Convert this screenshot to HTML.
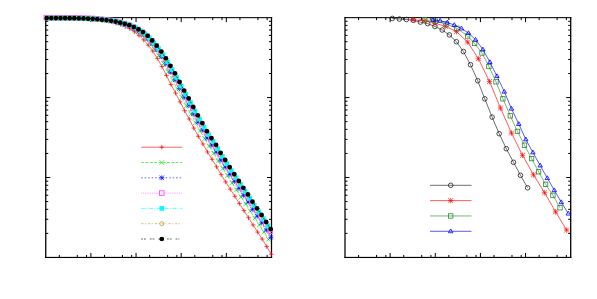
<!DOCTYPE html>
<html><head><meta charset="utf-8"><title>plot</title>
<style>html,body{margin:0;padding:0;background:#fff;font-family:"Liberation Sans",sans-serif;font-size:0;line-height:0}body{width:597px;height:299px;overflow:hidden;position:relative}svg{position:absolute;left:0;top:0}</style></head>
<body>
<svg width="597" height="299" viewBox="0 0 597 299" style="display:block">
<rect width="597" height="299" fill="#fff"/>
<defs><clipPath id="cl"><rect x="40" y="10" width="235" height="250"/></clipPath></defs>
<rect x="45.100" y="17.125" width="1.3" height="240.900" fill="#000"/>
<rect x="270.875" y="17.125" width="1.25" height="240.900" fill="#000"/>
<rect x="45.100" y="17.125" width="227.025" height="1.05" fill="#000"/>
<rect x="45.100" y="256.875" width="227.025" height="1.15" fill="#000"/>
<path d="M59.34 257.45v-2.5M59.34 17.65v2.5M77.31 257.45v-2.5M77.31 17.65v2.5M86.52 257.45v-2.5M86.52 17.65v2.5M90.90 257.45v-4.5M90.90 17.65v4.5M104.49 257.45v-2.5M104.49 17.65v2.5M122.46 257.45v-2.5M122.46 17.65v2.5M131.67 257.45v-2.5M131.67 17.65v2.5M136.05 257.45v-4.5M136.05 17.65v4.5M149.64 257.45v-2.5M149.64 17.65v2.5M167.61 257.45v-2.5M167.61 17.65v2.5M176.82 257.45v-2.5M176.82 17.65v2.5M181.20 257.45v-4.5M181.20 17.65v4.5M194.79 257.45v-2.5M194.79 17.65v2.5M212.76 257.45v-2.5M212.76 17.65v2.5M221.97 257.45v-2.5M221.97 17.65v2.5M226.35 257.45v-4.5M226.35 17.65v4.5M239.94 257.45v-2.5M239.94 17.65v2.5M257.91 257.45v-2.5M257.91 17.65v2.5M267.12 257.45v-2.5M267.12 17.65v2.5M45.75 73.52h2.5M271.5 73.52h-2.5M45.75 59.45h2.5M271.5 59.45h-2.5M45.75 49.46h2.5M271.5 49.46h-2.5M45.75 41.71h2.5M271.5 41.71h-2.5M45.75 35.38h2.5M271.5 35.38h-2.5M45.75 30.03h2.5M271.5 30.03h-2.5M45.75 25.40h2.5M271.5 25.40h-2.5M45.75 21.31h2.5M271.5 21.31h-2.5M45.75 97.58h4.5M271.5 97.58h-4.5M45.75 153.45h2.5M271.5 153.45h-2.5M45.75 139.38h2.5M271.5 139.38h-2.5M45.75 129.39h2.5M271.5 129.39h-2.5M45.75 121.65h2.5M271.5 121.65h-2.5M45.75 115.32h2.5M271.5 115.32h-2.5M45.75 109.97h2.5M271.5 109.97h-2.5M45.75 105.33h2.5M271.5 105.33h-2.5M45.75 101.24h2.5M271.5 101.24h-2.5M45.75 177.52h4.5M271.5 177.52h-4.5M45.75 233.39h2.5M271.5 233.39h-2.5M45.75 219.31h2.5M271.5 219.31h-2.5M45.75 209.33h2.5M271.5 209.33h-2.5M45.75 201.58h2.5M271.5 201.58h-2.5M45.75 195.25h2.5M271.5 195.25h-2.5M45.75 189.90h2.5M271.5 189.90h-2.5M45.75 185.26h2.5M271.5 185.26h-2.5M45.75 181.17h2.5M271.5 181.17h-2.5" stroke="#000" stroke-width="1" fill="none"/>
<g clip-path="url(#cl)">
<path d="M47.30 18.05L51.90 18.07L56.50 18.09L61.10 18.12L65.70 18.19L70.30 18.25L74.90 18.32L79.50 18.47L84.10 18.63L88.70 18.84L93.30 19.06L97.90 19.52L102.50 20.09L107.10 20.67L111.70 21.68L116.26 22.88L120.82 24.45L125.38 26.43L129.94 28.75L134.50 31.82L139.06 35.43L143.62 39.89L148.18 45.09L152.74 51.01L157.30 58.32L161.86 66.45L166.42 75.51L170.98 84.54L175.54 93.04L180.10 101.94L184.66 110.73L189.22 119.00L193.78 128.05L198.34 136.34L202.90 143.99L207.46 151.96L212.02 159.26L216.58 166.82L221.14 174.66L225.70 181.88L230.26 189.21L234.82 196.21L239.38 203.54L243.94 210.64L248.50 217.75L253.06 224.94L257.62 232.10L262.18 239.04L266.74 246.59L271.30 254.20" stroke="#ff0000" stroke-width="0.62" fill="none" stroke-linejoin="round"/>
<path d="M45.00 18.05h4.6M47.30 15.75v4.6" stroke="#ff0000" stroke-width="0.7" fill="none"/>
<path d="M49.60 18.07h4.6M51.90 15.77v4.6" stroke="#ff0000" stroke-width="0.7" fill="none"/>
<path d="M54.20 18.09h4.6M56.50 15.79v4.6" stroke="#ff0000" stroke-width="0.7" fill="none"/>
<path d="M58.80 18.12h4.6M61.10 15.82v4.6" stroke="#ff0000" stroke-width="0.7" fill="none"/>
<path d="M63.40 18.19h4.6M65.70 15.89v4.6" stroke="#ff0000" stroke-width="0.7" fill="none"/>
<path d="M68.00 18.25h4.6M70.30 15.95v4.6" stroke="#ff0000" stroke-width="0.7" fill="none"/>
<path d="M72.60 18.32h4.6M74.90 16.02v4.6" stroke="#ff0000" stroke-width="0.7" fill="none"/>
<path d="M77.20 18.47h4.6M79.50 16.17v4.6" stroke="#ff0000" stroke-width="0.7" fill="none"/>
<path d="M81.80 18.63h4.6M84.10 16.33v4.6" stroke="#ff0000" stroke-width="0.7" fill="none"/>
<path d="M86.40 18.84h4.6M88.70 16.54v4.6" stroke="#ff0000" stroke-width="0.7" fill="none"/>
<path d="M91.00 19.06h4.6M93.30 16.76v4.6" stroke="#ff0000" stroke-width="0.7" fill="none"/>
<path d="M95.60 19.52h4.6M97.90 17.22v4.6" stroke="#ff0000" stroke-width="0.7" fill="none"/>
<path d="M100.20 20.09h4.6M102.50 17.79v4.6" stroke="#ff0000" stroke-width="0.7" fill="none"/>
<path d="M104.80 20.67h4.6M107.10 18.37v4.6" stroke="#ff0000" stroke-width="0.7" fill="none"/>
<path d="M109.40 21.68h4.6M111.70 19.38v4.6" stroke="#ff0000" stroke-width="0.7" fill="none"/>
<path d="M113.96 22.88h4.6M116.26 20.58v4.6" stroke="#ff0000" stroke-width="0.7" fill="none"/>
<path d="M118.52 24.45h4.6M120.82 22.15v4.6" stroke="#ff0000" stroke-width="0.7" fill="none"/>
<path d="M123.08 26.43h4.6M125.38 24.13v4.6" stroke="#ff0000" stroke-width="0.7" fill="none"/>
<path d="M127.64 28.75h4.6M129.94 26.45v4.6" stroke="#ff0000" stroke-width="0.7" fill="none"/>
<path d="M132.20 31.82h4.6M134.50 29.52v4.6" stroke="#ff0000" stroke-width="0.7" fill="none"/>
<path d="M136.76 35.43h4.6M139.06 33.13v4.6" stroke="#ff0000" stroke-width="0.7" fill="none"/>
<path d="M141.32 39.89h4.6M143.62 37.59v4.6" stroke="#ff0000" stroke-width="0.7" fill="none"/>
<path d="M145.88 45.09h4.6M148.18 42.79v4.6" stroke="#ff0000" stroke-width="0.7" fill="none"/>
<path d="M150.44 51.01h4.6M152.74 48.71v4.6" stroke="#ff0000" stroke-width="0.7" fill="none"/>
<path d="M155.00 58.32h4.6M157.30 56.02v4.6" stroke="#ff0000" stroke-width="0.7" fill="none"/>
<path d="M159.56 66.45h4.6M161.86 64.15v4.6" stroke="#ff0000" stroke-width="0.7" fill="none"/>
<path d="M164.12 75.51h4.6M166.42 73.21v4.6" stroke="#ff0000" stroke-width="0.7" fill="none"/>
<path d="M168.68 84.54h4.6M170.98 82.24v4.6" stroke="#ff0000" stroke-width="0.7" fill="none"/>
<path d="M173.24 93.04h4.6M175.54 90.74v4.6" stroke="#ff0000" stroke-width="0.7" fill="none"/>
<path d="M177.80 101.94h4.6M180.10 99.64v4.6" stroke="#ff0000" stroke-width="0.7" fill="none"/>
<path d="M182.36 110.73h4.6M184.66 108.43v4.6" stroke="#ff0000" stroke-width="0.7" fill="none"/>
<path d="M186.92 119.00h4.6M189.22 116.70v4.6" stroke="#ff0000" stroke-width="0.7" fill="none"/>
<path d="M191.48 128.05h4.6M193.78 125.75v4.6" stroke="#ff0000" stroke-width="0.7" fill="none"/>
<path d="M196.04 136.34h4.6M198.34 134.04v4.6" stroke="#ff0000" stroke-width="0.7" fill="none"/>
<path d="M200.60 143.99h4.6M202.90 141.69v4.6" stroke="#ff0000" stroke-width="0.7" fill="none"/>
<path d="M205.16 151.96h4.6M207.46 149.66v4.6" stroke="#ff0000" stroke-width="0.7" fill="none"/>
<path d="M209.72 159.26h4.6M212.02 156.96v4.6" stroke="#ff0000" stroke-width="0.7" fill="none"/>
<path d="M214.28 166.82h4.6M216.58 164.52v4.6" stroke="#ff0000" stroke-width="0.7" fill="none"/>
<path d="M218.84 174.66h4.6M221.14 172.36v4.6" stroke="#ff0000" stroke-width="0.7" fill="none"/>
<path d="M223.40 181.88h4.6M225.70 179.58v4.6" stroke="#ff0000" stroke-width="0.7" fill="none"/>
<path d="M227.96 189.21h4.6M230.26 186.91v4.6" stroke="#ff0000" stroke-width="0.7" fill="none"/>
<path d="M232.52 196.21h4.6M234.82 193.91v4.6" stroke="#ff0000" stroke-width="0.7" fill="none"/>
<path d="M237.08 203.54h4.6M239.38 201.24v4.6" stroke="#ff0000" stroke-width="0.7" fill="none"/>
<path d="M241.64 210.64h4.6M243.94 208.34v4.6" stroke="#ff0000" stroke-width="0.7" fill="none"/>
<path d="M246.20 217.75h4.6M248.50 215.45v4.6" stroke="#ff0000" stroke-width="0.7" fill="none"/>
<path d="M250.76 224.94h4.6M253.06 222.64v4.6" stroke="#ff0000" stroke-width="0.7" fill="none"/>
<path d="M255.32 232.10h4.6M257.62 229.80v4.6" stroke="#ff0000" stroke-width="0.7" fill="none"/>
<path d="M259.88 239.04h4.6M262.18 236.74v4.6" stroke="#ff0000" stroke-width="0.7" fill="none"/>
<path d="M264.44 246.59h4.6M266.74 244.29v4.6" stroke="#ff0000" stroke-width="0.7" fill="none"/>
<path d="M269.00 254.20h4.6M271.30 251.90v4.6" stroke="#ff0000" stroke-width="0.7" fill="none"/>
<path d="M49.00 18.05L53.60 18.06L58.20 18.08L62.80 18.12L67.40 18.17L72.00 18.23L76.60 18.32L81.20 18.46L85.80 18.64L90.40 18.84L95.00 19.12L99.60 19.59L104.20 20.09L108.80 20.76L113.40 21.71L117.96 22.89L122.52 24.37L127.08 26.12L131.64 28.30L136.20 31.06L140.76 34.35L145.32 38.55L149.88 43.38L154.44 49.21L159.00 55.96L163.56 63.55L168.12 71.84L172.68 80.07L177.24 88.50L181.80 97.28L186.36 105.65L190.92 114.12L195.48 122.77L200.04 130.75L204.60 138.69L209.16 146.27L213.72 153.40L218.28 160.99L222.84 168.55L227.40 175.77L231.96 182.92L236.52 189.95L241.08 197.03L245.64 203.96L250.20 211.04L254.76 218.12L259.32 225.00L263.88 232.03L268.44 239.41" stroke="#00ee00" stroke-width="0.62" fill="none" stroke-dasharray="3,1.3" stroke-linejoin="round"/>
<path d="M46.60 15.65l4.8 4.8M46.60 20.45l4.8 -4.8" stroke="#00ee00" stroke-width="0.7" fill="none"/>
<path d="M51.20 15.66l4.8 4.8M51.20 20.46l4.8 -4.8" stroke="#00ee00" stroke-width="0.7" fill="none"/>
<path d="M55.80 15.68l4.8 4.8M55.80 20.48l4.8 -4.8" stroke="#00ee00" stroke-width="0.7" fill="none"/>
<path d="M60.40 15.72l4.8 4.8M60.40 20.52l4.8 -4.8" stroke="#00ee00" stroke-width="0.7" fill="none"/>
<path d="M65.00 15.77l4.8 4.8M65.00 20.57l4.8 -4.8" stroke="#00ee00" stroke-width="0.7" fill="none"/>
<path d="M69.60 15.83l4.8 4.8M69.60 20.63l4.8 -4.8" stroke="#00ee00" stroke-width="0.7" fill="none"/>
<path d="M74.20 15.92l4.8 4.8M74.20 20.72l4.8 -4.8" stroke="#00ee00" stroke-width="0.7" fill="none"/>
<path d="M78.80 16.06l4.8 4.8M78.80 20.86l4.8 -4.8" stroke="#00ee00" stroke-width="0.7" fill="none"/>
<path d="M83.40 16.24l4.8 4.8M83.40 21.04l4.8 -4.8" stroke="#00ee00" stroke-width="0.7" fill="none"/>
<path d="M88.00 16.44l4.8 4.8M88.00 21.24l4.8 -4.8" stroke="#00ee00" stroke-width="0.7" fill="none"/>
<path d="M92.60 16.72l4.8 4.8M92.60 21.52l4.8 -4.8" stroke="#00ee00" stroke-width="0.7" fill="none"/>
<path d="M97.20 17.19l4.8 4.8M97.20 21.99l4.8 -4.8" stroke="#00ee00" stroke-width="0.7" fill="none"/>
<path d="M101.80 17.69l4.8 4.8M101.80 22.49l4.8 -4.8" stroke="#00ee00" stroke-width="0.7" fill="none"/>
<path d="M106.40 18.36l4.8 4.8M106.40 23.16l4.8 -4.8" stroke="#00ee00" stroke-width="0.7" fill="none"/>
<path d="M111.00 19.31l4.8 4.8M111.00 24.11l4.8 -4.8" stroke="#00ee00" stroke-width="0.7" fill="none"/>
<path d="M115.56 20.49l4.8 4.8M115.56 25.29l4.8 -4.8" stroke="#00ee00" stroke-width="0.7" fill="none"/>
<path d="M120.12 21.97l4.8 4.8M120.12 26.77l4.8 -4.8" stroke="#00ee00" stroke-width="0.7" fill="none"/>
<path d="M124.68 23.72l4.8 4.8M124.68 28.52l4.8 -4.8" stroke="#00ee00" stroke-width="0.7" fill="none"/>
<path d="M129.24 25.90l4.8 4.8M129.24 30.70l4.8 -4.8" stroke="#00ee00" stroke-width="0.7" fill="none"/>
<path d="M133.80 28.66l4.8 4.8M133.80 33.46l4.8 -4.8" stroke="#00ee00" stroke-width="0.7" fill="none"/>
<path d="M138.36 31.95l4.8 4.8M138.36 36.75l4.8 -4.8" stroke="#00ee00" stroke-width="0.7" fill="none"/>
<path d="M142.92 36.15l4.8 4.8M142.92 40.95l4.8 -4.8" stroke="#00ee00" stroke-width="0.7" fill="none"/>
<path d="M147.48 40.98l4.8 4.8M147.48 45.78l4.8 -4.8" stroke="#00ee00" stroke-width="0.7" fill="none"/>
<path d="M152.04 46.81l4.8 4.8M152.04 51.61l4.8 -4.8" stroke="#00ee00" stroke-width="0.7" fill="none"/>
<path d="M156.60 53.56l4.8 4.8M156.60 58.36l4.8 -4.8" stroke="#00ee00" stroke-width="0.7" fill="none"/>
<path d="M161.16 61.15l4.8 4.8M161.16 65.95l4.8 -4.8" stroke="#00ee00" stroke-width="0.7" fill="none"/>
<path d="M165.72 69.44l4.8 4.8M165.72 74.24l4.8 -4.8" stroke="#00ee00" stroke-width="0.7" fill="none"/>
<path d="M170.28 77.67l4.8 4.8M170.28 82.47l4.8 -4.8" stroke="#00ee00" stroke-width="0.7" fill="none"/>
<path d="M174.84 86.10l4.8 4.8M174.84 90.90l4.8 -4.8" stroke="#00ee00" stroke-width="0.7" fill="none"/>
<path d="M179.40 94.88l4.8 4.8M179.40 99.68l4.8 -4.8" stroke="#00ee00" stroke-width="0.7" fill="none"/>
<path d="M183.96 103.25l4.8 4.8M183.96 108.05l4.8 -4.8" stroke="#00ee00" stroke-width="0.7" fill="none"/>
<path d="M188.52 111.72l4.8 4.8M188.52 116.52l4.8 -4.8" stroke="#00ee00" stroke-width="0.7" fill="none"/>
<path d="M193.08 120.37l4.8 4.8M193.08 125.17l4.8 -4.8" stroke="#00ee00" stroke-width="0.7" fill="none"/>
<path d="M197.64 128.35l4.8 4.8M197.64 133.15l4.8 -4.8" stroke="#00ee00" stroke-width="0.7" fill="none"/>
<path d="M202.20 136.29l4.8 4.8M202.20 141.09l4.8 -4.8" stroke="#00ee00" stroke-width="0.7" fill="none"/>
<path d="M206.76 143.87l4.8 4.8M206.76 148.67l4.8 -4.8" stroke="#00ee00" stroke-width="0.7" fill="none"/>
<path d="M211.32 151.00l4.8 4.8M211.32 155.80l4.8 -4.8" stroke="#00ee00" stroke-width="0.7" fill="none"/>
<path d="M215.88 158.59l4.8 4.8M215.88 163.39l4.8 -4.8" stroke="#00ee00" stroke-width="0.7" fill="none"/>
<path d="M220.44 166.15l4.8 4.8M220.44 170.95l4.8 -4.8" stroke="#00ee00" stroke-width="0.7" fill="none"/>
<path d="M225.00 173.37l4.8 4.8M225.00 178.17l4.8 -4.8" stroke="#00ee00" stroke-width="0.7" fill="none"/>
<path d="M229.56 180.52l4.8 4.8M229.56 185.32l4.8 -4.8" stroke="#00ee00" stroke-width="0.7" fill="none"/>
<path d="M234.12 187.55l4.8 4.8M234.12 192.35l4.8 -4.8" stroke="#00ee00" stroke-width="0.7" fill="none"/>
<path d="M238.68 194.63l4.8 4.8M238.68 199.43l4.8 -4.8" stroke="#00ee00" stroke-width="0.7" fill="none"/>
<path d="M243.24 201.56l4.8 4.8M243.24 206.36l4.8 -4.8" stroke="#00ee00" stroke-width="0.7" fill="none"/>
<path d="M247.80 208.64l4.8 4.8M247.80 213.44l4.8 -4.8" stroke="#00ee00" stroke-width="0.7" fill="none"/>
<path d="M252.36 215.72l4.8 4.8M252.36 220.52l4.8 -4.8" stroke="#00ee00" stroke-width="0.7" fill="none"/>
<path d="M256.92 222.60l4.8 4.8M256.92 227.40l4.8 -4.8" stroke="#00ee00" stroke-width="0.7" fill="none"/>
<path d="M261.48 229.63l4.8 4.8M261.48 234.43l4.8 -4.8" stroke="#00ee00" stroke-width="0.7" fill="none"/>
<path d="M266.04 237.01l4.8 4.8M266.04 241.81l4.8 -4.8" stroke="#00ee00" stroke-width="0.7" fill="none"/>
<path d="M46.90 18.04L51.50 18.05L56.10 18.06L60.70 18.08L65.30 18.13L69.90 18.18L74.50 18.23L79.10 18.36L83.70 18.50L88.30 18.70L92.90 18.90L97.50 19.29L102.10 19.78L106.70 20.23L111.30 21.05L115.86 22.02L120.42 23.23L124.98 24.69L129.54 26.36L134.10 28.59L138.66 31.31L143.22 34.60L147.78 38.79L152.34 43.84L156.90 49.76L161.46 56.39L166.02 63.91L170.58 71.96L175.14 79.80L179.70 88.53L184.26 97.15L188.82 105.15L193.38 113.91L197.94 122.21L202.50 129.94L207.06 138.04L211.62 145.05L216.18 152.05L220.74 160.03L225.30 167.16L229.86 174.40L234.42 181.38L238.98 188.38L243.54 195.31L248.10 202.09L252.66 209.32L257.22 216.16L261.78 222.87L266.34 230.07L270.90 237.37" stroke="#0000ff" stroke-width="0.62" fill="none" stroke-dasharray="1.5,2" stroke-linejoin="round"/>
<path d="M44.40 18.04h5.0M46.90 15.54v5.0" stroke="#0000ff" stroke-width="0.7" fill="none"/><path d="M44.65 15.79l4.5 4.5M44.65 20.29l4.5 -4.5" stroke="#0000ff" stroke-width="0.7" fill="none"/>
<path d="M49.00 18.05h5.0M51.50 15.55v5.0" stroke="#0000ff" stroke-width="0.7" fill="none"/><path d="M49.25 15.80l4.5 4.5M49.25 20.30l4.5 -4.5" stroke="#0000ff" stroke-width="0.7" fill="none"/>
<path d="M53.60 18.06h5.0M56.10 15.56v5.0" stroke="#0000ff" stroke-width="0.7" fill="none"/><path d="M53.85 15.81l4.5 4.5M53.85 20.31l4.5 -4.5" stroke="#0000ff" stroke-width="0.7" fill="none"/>
<path d="M58.20 18.08h5.0M60.70 15.58v5.0" stroke="#0000ff" stroke-width="0.7" fill="none"/><path d="M58.45 15.83l4.5 4.5M58.45 20.33l4.5 -4.5" stroke="#0000ff" stroke-width="0.7" fill="none"/>
<path d="M62.80 18.13h5.0M65.30 15.63v5.0" stroke="#0000ff" stroke-width="0.7" fill="none"/><path d="M63.05 15.88l4.5 4.5M63.05 20.38l4.5 -4.5" stroke="#0000ff" stroke-width="0.7" fill="none"/>
<path d="M67.40 18.18h5.0M69.90 15.68v5.0" stroke="#0000ff" stroke-width="0.7" fill="none"/><path d="M67.65 15.93l4.5 4.5M67.65 20.43l4.5 -4.5" stroke="#0000ff" stroke-width="0.7" fill="none"/>
<path d="M72.00 18.23h5.0M74.50 15.73v5.0" stroke="#0000ff" stroke-width="0.7" fill="none"/><path d="M72.25 15.98l4.5 4.5M72.25 20.48l4.5 -4.5" stroke="#0000ff" stroke-width="0.7" fill="none"/>
<path d="M76.60 18.36h5.0M79.10 15.86v5.0" stroke="#0000ff" stroke-width="0.7" fill="none"/><path d="M76.85 16.11l4.5 4.5M76.85 20.61l4.5 -4.5" stroke="#0000ff" stroke-width="0.7" fill="none"/>
<path d="M81.20 18.50h5.0M83.70 16.00v5.0" stroke="#0000ff" stroke-width="0.7" fill="none"/><path d="M81.45 16.25l4.5 4.5M81.45 20.75l4.5 -4.5" stroke="#0000ff" stroke-width="0.7" fill="none"/>
<path d="M85.80 18.70h5.0M88.30 16.20v5.0" stroke="#0000ff" stroke-width="0.7" fill="none"/><path d="M86.05 16.45l4.5 4.5M86.05 20.95l4.5 -4.5" stroke="#0000ff" stroke-width="0.7" fill="none"/>
<path d="M90.40 18.90h5.0M92.90 16.40v5.0" stroke="#0000ff" stroke-width="0.7" fill="none"/><path d="M90.65 16.65l4.5 4.5M90.65 21.15l4.5 -4.5" stroke="#0000ff" stroke-width="0.7" fill="none"/>
<path d="M95.00 19.29h5.0M97.50 16.79v5.0" stroke="#0000ff" stroke-width="0.7" fill="none"/><path d="M95.25 17.04l4.5 4.5M95.25 21.54l4.5 -4.5" stroke="#0000ff" stroke-width="0.7" fill="none"/>
<path d="M99.60 19.78h5.0M102.10 17.28v5.0" stroke="#0000ff" stroke-width="0.7" fill="none"/><path d="M99.85 17.53l4.5 4.5M99.85 22.03l4.5 -4.5" stroke="#0000ff" stroke-width="0.7" fill="none"/>
<path d="M104.20 20.23h5.0M106.70 17.73v5.0" stroke="#0000ff" stroke-width="0.7" fill="none"/><path d="M104.45 17.98l4.5 4.5M104.45 22.48l4.5 -4.5" stroke="#0000ff" stroke-width="0.7" fill="none"/>
<path d="M108.80 21.05h5.0M111.30 18.55v5.0" stroke="#0000ff" stroke-width="0.7" fill="none"/><path d="M109.05 18.80l4.5 4.5M109.05 23.30l4.5 -4.5" stroke="#0000ff" stroke-width="0.7" fill="none"/>
<path d="M113.36 22.02h5.0M115.86 19.52v5.0" stroke="#0000ff" stroke-width="0.7" fill="none"/><path d="M113.61 19.77l4.5 4.5M113.61 24.27l4.5 -4.5" stroke="#0000ff" stroke-width="0.7" fill="none"/>
<path d="M117.92 23.23h5.0M120.42 20.73v5.0" stroke="#0000ff" stroke-width="0.7" fill="none"/><path d="M118.17 20.98l4.5 4.5M118.17 25.48l4.5 -4.5" stroke="#0000ff" stroke-width="0.7" fill="none"/>
<path d="M122.48 24.69h5.0M124.98 22.19v5.0" stroke="#0000ff" stroke-width="0.7" fill="none"/><path d="M122.73 22.44l4.5 4.5M122.73 26.94l4.5 -4.5" stroke="#0000ff" stroke-width="0.7" fill="none"/>
<path d="M127.04 26.36h5.0M129.54 23.86v5.0" stroke="#0000ff" stroke-width="0.7" fill="none"/><path d="M127.29 24.11l4.5 4.5M127.29 28.61l4.5 -4.5" stroke="#0000ff" stroke-width="0.7" fill="none"/>
<path d="M131.60 28.59h5.0M134.10 26.09v5.0" stroke="#0000ff" stroke-width="0.7" fill="none"/><path d="M131.85 26.34l4.5 4.5M131.85 30.84l4.5 -4.5" stroke="#0000ff" stroke-width="0.7" fill="none"/>
<path d="M136.16 31.31h5.0M138.66 28.81v5.0" stroke="#0000ff" stroke-width="0.7" fill="none"/><path d="M136.41 29.06l4.5 4.5M136.41 33.56l4.5 -4.5" stroke="#0000ff" stroke-width="0.7" fill="none"/>
<path d="M140.72 34.60h5.0M143.22 32.10v5.0" stroke="#0000ff" stroke-width="0.7" fill="none"/><path d="M140.97 32.35l4.5 4.5M140.97 36.85l4.5 -4.5" stroke="#0000ff" stroke-width="0.7" fill="none"/>
<path d="M145.28 38.79h5.0M147.78 36.29v5.0" stroke="#0000ff" stroke-width="0.7" fill="none"/><path d="M145.53 36.54l4.5 4.5M145.53 41.04l4.5 -4.5" stroke="#0000ff" stroke-width="0.7" fill="none"/>
<path d="M149.84 43.84h5.0M152.34 41.34v5.0" stroke="#0000ff" stroke-width="0.7" fill="none"/><path d="M150.09 41.59l4.5 4.5M150.09 46.09l4.5 -4.5" stroke="#0000ff" stroke-width="0.7" fill="none"/>
<path d="M154.40 49.76h5.0M156.90 47.26v5.0" stroke="#0000ff" stroke-width="0.7" fill="none"/><path d="M154.65 47.51l4.5 4.5M154.65 52.01l4.5 -4.5" stroke="#0000ff" stroke-width="0.7" fill="none"/>
<path d="M158.96 56.39h5.0M161.46 53.89v5.0" stroke="#0000ff" stroke-width="0.7" fill="none"/><path d="M159.21 54.14l4.5 4.5M159.21 58.64l4.5 -4.5" stroke="#0000ff" stroke-width="0.7" fill="none"/>
<path d="M163.52 63.91h5.0M166.02 61.41v5.0" stroke="#0000ff" stroke-width="0.7" fill="none"/><path d="M163.77 61.66l4.5 4.5M163.77 66.16l4.5 -4.5" stroke="#0000ff" stroke-width="0.7" fill="none"/>
<path d="M168.08 71.96h5.0M170.58 69.46v5.0" stroke="#0000ff" stroke-width="0.7" fill="none"/><path d="M168.33 69.71l4.5 4.5M168.33 74.21l4.5 -4.5" stroke="#0000ff" stroke-width="0.7" fill="none"/>
<path d="M172.64 79.80h5.0M175.14 77.30v5.0" stroke="#0000ff" stroke-width="0.7" fill="none"/><path d="M172.89 77.55l4.5 4.5M172.89 82.05l4.5 -4.5" stroke="#0000ff" stroke-width="0.7" fill="none"/>
<path d="M177.20 88.53h5.0M179.70 86.03v5.0" stroke="#0000ff" stroke-width="0.7" fill="none"/><path d="M177.45 86.28l4.5 4.5M177.45 90.78l4.5 -4.5" stroke="#0000ff" stroke-width="0.7" fill="none"/>
<path d="M181.76 97.15h5.0M184.26 94.65v5.0" stroke="#0000ff" stroke-width="0.7" fill="none"/><path d="M182.01 94.90l4.5 4.5M182.01 99.40l4.5 -4.5" stroke="#0000ff" stroke-width="0.7" fill="none"/>
<path d="M186.32 105.15h5.0M188.82 102.65v5.0" stroke="#0000ff" stroke-width="0.7" fill="none"/><path d="M186.57 102.90l4.5 4.5M186.57 107.40l4.5 -4.5" stroke="#0000ff" stroke-width="0.7" fill="none"/>
<path d="M190.88 113.91h5.0M193.38 111.41v5.0" stroke="#0000ff" stroke-width="0.7" fill="none"/><path d="M191.13 111.66l4.5 4.5M191.13 116.16l4.5 -4.5" stroke="#0000ff" stroke-width="0.7" fill="none"/>
<path d="M195.44 122.21h5.0M197.94 119.71v5.0" stroke="#0000ff" stroke-width="0.7" fill="none"/><path d="M195.69 119.96l4.5 4.5M195.69 124.46l4.5 -4.5" stroke="#0000ff" stroke-width="0.7" fill="none"/>
<path d="M200.00 129.94h5.0M202.50 127.44v5.0" stroke="#0000ff" stroke-width="0.7" fill="none"/><path d="M200.25 127.69l4.5 4.5M200.25 132.19l4.5 -4.5" stroke="#0000ff" stroke-width="0.7" fill="none"/>
<path d="M204.56 138.04h5.0M207.06 135.54v5.0" stroke="#0000ff" stroke-width="0.7" fill="none"/><path d="M204.81 135.79l4.5 4.5M204.81 140.29l4.5 -4.5" stroke="#0000ff" stroke-width="0.7" fill="none"/>
<path d="M209.12 145.05h5.0M211.62 142.55v5.0" stroke="#0000ff" stroke-width="0.7" fill="none"/><path d="M209.37 142.80l4.5 4.5M209.37 147.30l4.5 -4.5" stroke="#0000ff" stroke-width="0.7" fill="none"/>
<path d="M213.68 152.05h5.0M216.18 149.55v5.0" stroke="#0000ff" stroke-width="0.7" fill="none"/><path d="M213.93 149.80l4.5 4.5M213.93 154.30l4.5 -4.5" stroke="#0000ff" stroke-width="0.7" fill="none"/>
<path d="M218.24 160.03h5.0M220.74 157.53v5.0" stroke="#0000ff" stroke-width="0.7" fill="none"/><path d="M218.49 157.78l4.5 4.5M218.49 162.28l4.5 -4.5" stroke="#0000ff" stroke-width="0.7" fill="none"/>
<path d="M222.80 167.16h5.0M225.30 164.66v5.0" stroke="#0000ff" stroke-width="0.7" fill="none"/><path d="M223.05 164.91l4.5 4.5M223.05 169.41l4.5 -4.5" stroke="#0000ff" stroke-width="0.7" fill="none"/>
<path d="M227.36 174.40h5.0M229.86 171.90v5.0" stroke="#0000ff" stroke-width="0.7" fill="none"/><path d="M227.61 172.15l4.5 4.5M227.61 176.65l4.5 -4.5" stroke="#0000ff" stroke-width="0.7" fill="none"/>
<path d="M231.92 181.38h5.0M234.42 178.88v5.0" stroke="#0000ff" stroke-width="0.7" fill="none"/><path d="M232.17 179.13l4.5 4.5M232.17 183.63l4.5 -4.5" stroke="#0000ff" stroke-width="0.7" fill="none"/>
<path d="M236.48 188.38h5.0M238.98 185.88v5.0" stroke="#0000ff" stroke-width="0.7" fill="none"/><path d="M236.73 186.13l4.5 4.5M236.73 190.63l4.5 -4.5" stroke="#0000ff" stroke-width="0.7" fill="none"/>
<path d="M241.04 195.31h5.0M243.54 192.81v5.0" stroke="#0000ff" stroke-width="0.7" fill="none"/><path d="M241.29 193.06l4.5 4.5M241.29 197.56l4.5 -4.5" stroke="#0000ff" stroke-width="0.7" fill="none"/>
<path d="M245.60 202.09h5.0M248.10 199.59v5.0" stroke="#0000ff" stroke-width="0.7" fill="none"/><path d="M245.85 199.84l4.5 4.5M245.85 204.34l4.5 -4.5" stroke="#0000ff" stroke-width="0.7" fill="none"/>
<path d="M250.16 209.32h5.0M252.66 206.82v5.0" stroke="#0000ff" stroke-width="0.7" fill="none"/><path d="M250.41 207.07l4.5 4.5M250.41 211.57l4.5 -4.5" stroke="#0000ff" stroke-width="0.7" fill="none"/>
<path d="M254.72 216.16h5.0M257.22 213.66v5.0" stroke="#0000ff" stroke-width="0.7" fill="none"/><path d="M254.97 213.91l4.5 4.5M254.97 218.41l4.5 -4.5" stroke="#0000ff" stroke-width="0.7" fill="none"/>
<path d="M259.28 222.87h5.0M261.78 220.37v5.0" stroke="#0000ff" stroke-width="0.7" fill="none"/><path d="M259.53 220.62l4.5 4.5M259.53 225.12l4.5 -4.5" stroke="#0000ff" stroke-width="0.7" fill="none"/>
<path d="M263.84 230.07h5.0M266.34 227.57v5.0" stroke="#0000ff" stroke-width="0.7" fill="none"/><path d="M264.09 227.82l4.5 4.5M264.09 232.32l4.5 -4.5" stroke="#0000ff" stroke-width="0.7" fill="none"/>
<path d="M268.40 237.37h5.0M270.90 234.87v5.0" stroke="#0000ff" stroke-width="0.7" fill="none"/><path d="M268.65 235.12l4.5 4.5M268.65 239.62l4.5 -4.5" stroke="#0000ff" stroke-width="0.7" fill="none"/>
<path d="M46.30 17.64L50.90 17.65L55.50 17.65L60.10 17.66L64.70 17.71L69.30 17.76L73.90 17.80L78.50 17.92L83.10 18.06L87.70 18.24L92.30 18.44L96.90 18.79L101.50 19.24L106.10 19.66L110.70 20.39L115.26 21.27L119.82 22.36L124.38 23.65L128.94 25.10L133.50 27.04L138.06 29.44L142.62 32.33L147.18 36.14L151.74 40.83L156.30 46.25L160.86 52.35L165.42 59.30L169.98 67.01L174.54 74.62L179.10 83.23L183.66 91.84L188.22 99.77L192.78 108.39L197.34 116.74L201.90 124.50L206.46 132.72L211.02 139.70L215.58 146.50L220.14 154.46L224.70 161.62L229.26 168.82L233.82 175.83L238.38 182.73L242.94 189.61L247.50 196.32L252.06 203.52L256.62 210.31L261.18 216.96L265.74 224.01L270.30 231.20" stroke="#ff50ff" stroke-width="0.62" fill="none" stroke-dasharray="0.9,0.9" stroke-linejoin="round"/>
<rect x="44.00" y="15.34" width="4.6" height="4.6" stroke="#ff50ff" stroke-width="0.9" fill="none"/>
<rect x="48.60" y="15.35" width="4.6" height="4.6" stroke="#ff50ff" stroke-width="0.9" fill="none"/>
<rect x="53.20" y="15.35" width="4.6" height="4.6" stroke="#ff50ff" stroke-width="0.9" fill="none"/>
<rect x="57.80" y="15.36" width="4.6" height="4.6" stroke="#ff50ff" stroke-width="0.9" fill="none"/>
<rect x="62.40" y="15.41" width="4.6" height="4.6" stroke="#ff50ff" stroke-width="0.9" fill="none"/>
<rect x="67.00" y="15.46" width="4.6" height="4.6" stroke="#ff50ff" stroke-width="0.9" fill="none"/>
<rect x="71.60" y="15.50" width="4.6" height="4.6" stroke="#ff50ff" stroke-width="0.9" fill="none"/>
<rect x="76.20" y="15.62" width="4.6" height="4.6" stroke="#ff50ff" stroke-width="0.9" fill="none"/>
<rect x="80.80" y="15.76" width="4.6" height="4.6" stroke="#ff50ff" stroke-width="0.9" fill="none"/>
<rect x="85.40" y="15.94" width="4.6" height="4.6" stroke="#ff50ff" stroke-width="0.9" fill="none"/>
<rect x="90.00" y="16.14" width="4.6" height="4.6" stroke="#ff50ff" stroke-width="0.9" fill="none"/>
<rect x="94.60" y="16.49" width="4.6" height="4.6" stroke="#ff50ff" stroke-width="0.9" fill="none"/>
<rect x="99.20" y="16.94" width="4.6" height="4.6" stroke="#ff50ff" stroke-width="0.9" fill="none"/>
<rect x="103.80" y="17.36" width="4.6" height="4.6" stroke="#ff50ff" stroke-width="0.9" fill="none"/>
<rect x="108.40" y="18.09" width="4.6" height="4.6" stroke="#ff50ff" stroke-width="0.9" fill="none"/>
<rect x="112.96" y="18.97" width="4.6" height="4.6" stroke="#ff50ff" stroke-width="0.9" fill="none"/>
<rect x="117.52" y="20.06" width="4.6" height="4.6" stroke="#ff50ff" stroke-width="0.9" fill="none"/>
<rect x="122.08" y="21.35" width="4.6" height="4.6" stroke="#ff50ff" stroke-width="0.9" fill="none"/>
<rect x="126.64" y="22.80" width="4.6" height="4.6" stroke="#ff50ff" stroke-width="0.9" fill="none"/>
<rect x="131.20" y="24.74" width="4.6" height="4.6" stroke="#ff50ff" stroke-width="0.9" fill="none"/>
<rect x="135.76" y="27.14" width="4.6" height="4.6" stroke="#ff50ff" stroke-width="0.9" fill="none"/>
<rect x="140.32" y="30.03" width="4.6" height="4.6" stroke="#ff50ff" stroke-width="0.9" fill="none"/>
<rect x="144.88" y="33.84" width="4.6" height="4.6" stroke="#ff50ff" stroke-width="0.9" fill="none"/>
<rect x="149.44" y="38.53" width="4.6" height="4.6" stroke="#ff50ff" stroke-width="0.9" fill="none"/>
<rect x="154.00" y="43.95" width="4.6" height="4.6" stroke="#ff50ff" stroke-width="0.9" fill="none"/>
<rect x="158.56" y="50.05" width="4.6" height="4.6" stroke="#ff50ff" stroke-width="0.9" fill="none"/>
<rect x="163.12" y="57.00" width="4.6" height="4.6" stroke="#ff50ff" stroke-width="0.9" fill="none"/>
<rect x="167.68" y="64.71" width="4.6" height="4.6" stroke="#ff50ff" stroke-width="0.9" fill="none"/>
<rect x="172.24" y="72.32" width="4.6" height="4.6" stroke="#ff50ff" stroke-width="0.9" fill="none"/>
<rect x="176.80" y="80.93" width="4.6" height="4.6" stroke="#ff50ff" stroke-width="0.9" fill="none"/>
<rect x="181.36" y="89.54" width="4.6" height="4.6" stroke="#ff50ff" stroke-width="0.9" fill="none"/>
<rect x="185.92" y="97.47" width="4.6" height="4.6" stroke="#ff50ff" stroke-width="0.9" fill="none"/>
<rect x="190.48" y="106.09" width="4.6" height="4.6" stroke="#ff50ff" stroke-width="0.9" fill="none"/>
<rect x="195.04" y="114.44" width="4.6" height="4.6" stroke="#ff50ff" stroke-width="0.9" fill="none"/>
<rect x="199.60" y="122.20" width="4.6" height="4.6" stroke="#ff50ff" stroke-width="0.9" fill="none"/>
<rect x="204.16" y="130.42" width="4.6" height="4.6" stroke="#ff50ff" stroke-width="0.9" fill="none"/>
<rect x="208.72" y="137.40" width="4.6" height="4.6" stroke="#ff50ff" stroke-width="0.9" fill="none"/>
<rect x="213.28" y="144.20" width="4.6" height="4.6" stroke="#ff50ff" stroke-width="0.9" fill="none"/>
<rect x="217.84" y="152.16" width="4.6" height="4.6" stroke="#ff50ff" stroke-width="0.9" fill="none"/>
<rect x="222.40" y="159.32" width="4.6" height="4.6" stroke="#ff50ff" stroke-width="0.9" fill="none"/>
<rect x="226.96" y="166.52" width="4.6" height="4.6" stroke="#ff50ff" stroke-width="0.9" fill="none"/>
<rect x="231.52" y="173.53" width="4.6" height="4.6" stroke="#ff50ff" stroke-width="0.9" fill="none"/>
<rect x="236.08" y="180.43" width="4.6" height="4.6" stroke="#ff50ff" stroke-width="0.9" fill="none"/>
<rect x="240.64" y="187.31" width="4.6" height="4.6" stroke="#ff50ff" stroke-width="0.9" fill="none"/>
<rect x="245.20" y="194.02" width="4.6" height="4.6" stroke="#ff50ff" stroke-width="0.9" fill="none"/>
<rect x="249.76" y="201.22" width="4.6" height="4.6" stroke="#ff50ff" stroke-width="0.9" fill="none"/>
<rect x="254.32" y="208.01" width="4.6" height="4.6" stroke="#ff50ff" stroke-width="0.9" fill="none"/>
<rect x="258.88" y="214.66" width="4.6" height="4.6" stroke="#ff50ff" stroke-width="0.9" fill="none"/>
<rect x="263.44" y="221.71" width="4.6" height="4.6" stroke="#ff50ff" stroke-width="0.9" fill="none"/>
<rect x="268.00" y="228.90" width="4.6" height="4.6" stroke="#ff50ff" stroke-width="0.9" fill="none"/>
<path d="M48.50 18.04L53.10 18.03L57.70 18.03L62.30 18.04L66.90 18.08L71.50 18.12L76.10 18.18L80.70 18.30L85.30 18.45L89.90 18.63L94.50 18.88L99.10 19.26L103.70 19.64L108.30 20.09L112.90 20.82L117.46 21.72L122.02 22.84L126.58 24.10L131.14 25.68L135.70 27.85L140.26 30.47L144.82 33.74L149.38 37.95L153.94 42.93L158.50 48.52L163.06 54.84L167.62 61.99L172.18 69.54L176.74 77.50L181.30 86.12L185.86 94.38L190.42 102.54L194.98 111.03L199.54 119.10L204.10 127.07L208.66 134.71L213.22 141.52L217.78 148.76L222.34 156.42L226.90 163.55L231.46 170.66L236.02 177.61L240.58 184.47L245.14 191.26L249.70 198.15L254.26 205.22L258.82 211.92L263.38 218.73L267.94 225.86" stroke="#00ffff" stroke-width="0.62" fill="none" stroke-dasharray="4.2,1.2,1,1.4" stroke-linejoin="round"/>
<rect x="46.15" y="15.69" width="4.7" height="4.7" fill="#00ffff"/>
<rect x="50.75" y="15.68" width="4.7" height="4.7" fill="#00ffff"/>
<rect x="55.35" y="15.68" width="4.7" height="4.7" fill="#00ffff"/>
<rect x="59.95" y="15.69" width="4.7" height="4.7" fill="#00ffff"/>
<rect x="64.55" y="15.73" width="4.7" height="4.7" fill="#00ffff"/>
<rect x="69.15" y="15.77" width="4.7" height="4.7" fill="#00ffff"/>
<rect x="73.75" y="15.83" width="4.7" height="4.7" fill="#00ffff"/>
<rect x="78.35" y="15.95" width="4.7" height="4.7" fill="#00ffff"/>
<rect x="82.95" y="16.10" width="4.7" height="4.7" fill="#00ffff"/>
<rect x="87.55" y="16.28" width="4.7" height="4.7" fill="#00ffff"/>
<rect x="92.15" y="16.53" width="4.7" height="4.7" fill="#00ffff"/>
<rect x="96.75" y="16.91" width="4.7" height="4.7" fill="#00ffff"/>
<rect x="101.35" y="17.29" width="4.7" height="4.7" fill="#00ffff"/>
<rect x="105.95" y="17.74" width="4.7" height="4.7" fill="#00ffff"/>
<rect x="110.55" y="18.47" width="4.7" height="4.7" fill="#00ffff"/>
<rect x="115.11" y="19.37" width="4.7" height="4.7" fill="#00ffff"/>
<rect x="119.67" y="20.49" width="4.7" height="4.7" fill="#00ffff"/>
<rect x="124.23" y="21.75" width="4.7" height="4.7" fill="#00ffff"/>
<rect x="128.79" y="23.33" width="4.7" height="4.7" fill="#00ffff"/>
<rect x="133.35" y="25.50" width="4.7" height="4.7" fill="#00ffff"/>
<rect x="137.91" y="28.12" width="4.7" height="4.7" fill="#00ffff"/>
<rect x="142.47" y="31.39" width="4.7" height="4.7" fill="#00ffff"/>
<rect x="147.03" y="35.60" width="4.7" height="4.7" fill="#00ffff"/>
<rect x="151.59" y="40.58" width="4.7" height="4.7" fill="#00ffff"/>
<rect x="156.15" y="46.17" width="4.7" height="4.7" fill="#00ffff"/>
<rect x="160.71" y="52.49" width="4.7" height="4.7" fill="#00ffff"/>
<rect x="165.27" y="59.64" width="4.7" height="4.7" fill="#00ffff"/>
<rect x="169.83" y="67.19" width="4.7" height="4.7" fill="#00ffff"/>
<rect x="174.39" y="75.15" width="4.7" height="4.7" fill="#00ffff"/>
<rect x="178.95" y="83.77" width="4.7" height="4.7" fill="#00ffff"/>
<rect x="183.51" y="92.03" width="4.7" height="4.7" fill="#00ffff"/>
<rect x="188.07" y="100.19" width="4.7" height="4.7" fill="#00ffff"/>
<rect x="192.63" y="108.68" width="4.7" height="4.7" fill="#00ffff"/>
<rect x="197.19" y="116.75" width="4.7" height="4.7" fill="#00ffff"/>
<rect x="201.75" y="124.72" width="4.7" height="4.7" fill="#00ffff"/>
<rect x="206.31" y="132.36" width="4.7" height="4.7" fill="#00ffff"/>
<rect x="210.87" y="139.17" width="4.7" height="4.7" fill="#00ffff"/>
<rect x="215.43" y="146.41" width="4.7" height="4.7" fill="#00ffff"/>
<rect x="219.99" y="154.07" width="4.7" height="4.7" fill="#00ffff"/>
<rect x="224.55" y="161.20" width="4.7" height="4.7" fill="#00ffff"/>
<rect x="229.11" y="168.31" width="4.7" height="4.7" fill="#00ffff"/>
<rect x="233.67" y="175.26" width="4.7" height="4.7" fill="#00ffff"/>
<rect x="238.23" y="182.12" width="4.7" height="4.7" fill="#00ffff"/>
<rect x="242.79" y="188.91" width="4.7" height="4.7" fill="#00ffff"/>
<rect x="247.35" y="195.80" width="4.7" height="4.7" fill="#00ffff"/>
<rect x="251.91" y="202.87" width="4.7" height="4.7" fill="#00ffff"/>
<rect x="256.47" y="209.57" width="4.7" height="4.7" fill="#00ffff"/>
<rect x="261.03" y="216.38" width="4.7" height="4.7" fill="#00ffff"/>
<rect x="265.59" y="223.51" width="4.7" height="4.7" fill="#00ffff"/>
<path d="M46.70 18.04L51.30 18.04L55.90 18.05L60.50 18.06L65.10 18.10L69.70 18.15L74.30 18.20L78.90 18.32L83.50 18.45L88.10 18.64L92.70 18.84L97.30 19.19L101.90 19.64L106.50 20.05L111.10 20.77L115.66 21.65L120.22 22.70L124.78 23.94L129.34 25.31L133.90 27.18L138.46 29.50L143.02 32.28L147.58 36.01L152.14 40.69L156.70 45.98L161.26 51.95L165.82 58.74L170.38 66.32L174.94 73.83L179.50 82.50L184.06 91.05L188.62 98.92L193.18 107.55L197.74 115.84L202.30 123.61L206.86 131.79L211.42 138.68L215.98 145.40L220.54 153.44L225.10 160.55L229.66 167.73L234.22 174.72L238.78 181.57L243.34 188.42L247.90 195.08L252.46 202.31L257.02 209.01L261.58 215.62L266.14 222.67L270.70 229.82" stroke="#b8a030" stroke-width="0.62" fill="none" stroke-dasharray="2.4,1.4,1,2" stroke-linejoin="round"/>
<circle cx="46.70" cy="18.04" r="2.0" stroke="#b8a030" stroke-width="0.8" fill="none"/>
<circle cx="51.30" cy="18.04" r="2.0" stroke="#b8a030" stroke-width="0.8" fill="none"/>
<circle cx="55.90" cy="18.05" r="2.0" stroke="#b8a030" stroke-width="0.8" fill="none"/>
<circle cx="60.50" cy="18.06" r="2.0" stroke="#b8a030" stroke-width="0.8" fill="none"/>
<circle cx="65.10" cy="18.10" r="2.0" stroke="#b8a030" stroke-width="0.8" fill="none"/>
<circle cx="69.70" cy="18.15" r="2.0" stroke="#b8a030" stroke-width="0.8" fill="none"/>
<circle cx="74.30" cy="18.20" r="2.0" stroke="#b8a030" stroke-width="0.8" fill="none"/>
<circle cx="78.90" cy="18.32" r="2.0" stroke="#b8a030" stroke-width="0.8" fill="none"/>
<circle cx="83.50" cy="18.45" r="2.0" stroke="#b8a030" stroke-width="0.8" fill="none"/>
<circle cx="88.10" cy="18.64" r="2.0" stroke="#b8a030" stroke-width="0.8" fill="none"/>
<circle cx="92.70" cy="18.84" r="2.0" stroke="#b8a030" stroke-width="0.8" fill="none"/>
<circle cx="97.30" cy="19.19" r="2.0" stroke="#b8a030" stroke-width="0.8" fill="none"/>
<circle cx="101.90" cy="19.64" r="2.0" stroke="#b8a030" stroke-width="0.8" fill="none"/>
<circle cx="106.50" cy="20.05" r="2.0" stroke="#b8a030" stroke-width="0.8" fill="none"/>
<circle cx="111.10" cy="20.77" r="2.0" stroke="#b8a030" stroke-width="0.8" fill="none"/>
<circle cx="115.66" cy="21.65" r="2.0" stroke="#b8a030" stroke-width="0.8" fill="none"/>
<circle cx="120.22" cy="22.70" r="2.0" stroke="#b8a030" stroke-width="0.8" fill="none"/>
<circle cx="124.78" cy="23.94" r="2.0" stroke="#b8a030" stroke-width="0.8" fill="none"/>
<circle cx="129.34" cy="25.31" r="2.0" stroke="#b8a030" stroke-width="0.8" fill="none"/>
<circle cx="133.90" cy="27.18" r="2.0" stroke="#b8a030" stroke-width="0.8" fill="none"/>
<circle cx="138.46" cy="29.50" r="2.0" stroke="#b8a030" stroke-width="0.8" fill="none"/>
<circle cx="143.02" cy="32.28" r="2.0" stroke="#b8a030" stroke-width="0.8" fill="none"/>
<circle cx="147.58" cy="36.01" r="2.0" stroke="#b8a030" stroke-width="0.8" fill="none"/>
<circle cx="152.14" cy="40.69" r="2.0" stroke="#b8a030" stroke-width="0.8" fill="none"/>
<circle cx="156.70" cy="45.98" r="2.0" stroke="#b8a030" stroke-width="0.8" fill="none"/>
<circle cx="161.26" cy="51.95" r="2.0" stroke="#b8a030" stroke-width="0.8" fill="none"/>
<circle cx="165.82" cy="58.74" r="2.0" stroke="#b8a030" stroke-width="0.8" fill="none"/>
<circle cx="170.38" cy="66.32" r="2.0" stroke="#b8a030" stroke-width="0.8" fill="none"/>
<circle cx="174.94" cy="73.83" r="2.0" stroke="#b8a030" stroke-width="0.8" fill="none"/>
<circle cx="179.50" cy="82.50" r="2.0" stroke="#b8a030" stroke-width="0.8" fill="none"/>
<circle cx="184.06" cy="91.05" r="2.0" stroke="#b8a030" stroke-width="0.8" fill="none"/>
<circle cx="188.62" cy="98.92" r="2.0" stroke="#b8a030" stroke-width="0.8" fill="none"/>
<circle cx="193.18" cy="107.55" r="2.0" stroke="#b8a030" stroke-width="0.8" fill="none"/>
<circle cx="197.74" cy="115.84" r="2.0" stroke="#b8a030" stroke-width="0.8" fill="none"/>
<circle cx="202.30" cy="123.61" r="2.0" stroke="#b8a030" stroke-width="0.8" fill="none"/>
<circle cx="206.86" cy="131.79" r="2.0" stroke="#b8a030" stroke-width="0.8" fill="none"/>
<circle cx="211.42" cy="138.68" r="2.0" stroke="#b8a030" stroke-width="0.8" fill="none"/>
<circle cx="215.98" cy="145.40" r="2.0" stroke="#b8a030" stroke-width="0.8" fill="none"/>
<circle cx="220.54" cy="153.44" r="2.0" stroke="#b8a030" stroke-width="0.8" fill="none"/>
<circle cx="225.10" cy="160.55" r="2.0" stroke="#b8a030" stroke-width="0.8" fill="none"/>
<circle cx="229.66" cy="167.73" r="2.0" stroke="#b8a030" stroke-width="0.8" fill="none"/>
<circle cx="234.22" cy="174.72" r="2.0" stroke="#b8a030" stroke-width="0.8" fill="none"/>
<circle cx="238.78" cy="181.57" r="2.0" stroke="#b8a030" stroke-width="0.8" fill="none"/>
<circle cx="243.34" cy="188.42" r="2.0" stroke="#b8a030" stroke-width="0.8" fill="none"/>
<circle cx="247.90" cy="195.08" r="2.0" stroke="#b8a030" stroke-width="0.8" fill="none"/>
<circle cx="252.46" cy="202.31" r="2.0" stroke="#b8a030" stroke-width="0.8" fill="none"/>
<circle cx="257.02" cy="209.01" r="2.0" stroke="#b8a030" stroke-width="0.8" fill="none"/>
<circle cx="261.58" cy="215.62" r="2.0" stroke="#b8a030" stroke-width="0.8" fill="none"/>
<circle cx="266.14" cy="222.67" r="2.0" stroke="#b8a030" stroke-width="0.8" fill="none"/>
<circle cx="270.70" cy="229.82" r="2.0" stroke="#b8a030" stroke-width="0.8" fill="none"/>
<path d="M46.70 18.04L51.30 18.04L55.90 18.05L60.50 18.05L65.10 18.10L69.70 18.15L74.30 18.19L78.90 18.31L83.50 18.45L88.10 18.64L92.70 18.83L97.30 19.18L101.90 19.63L106.50 20.03L111.10 20.75L115.66 21.61L120.22 22.66L124.78 23.87L129.34 25.22L133.90 27.05L138.46 29.34L143.02 32.07L147.58 35.75L152.14 40.40L156.70 45.63L161.26 51.53L165.82 58.26L170.38 65.79L174.94 73.28L179.50 81.94L184.06 90.48L188.62 98.34L193.18 106.95L197.74 115.24L202.30 123.01L206.86 131.19L211.42 138.08L215.98 144.77L220.54 152.82L225.10 159.92L229.66 167.10L234.22 174.08L238.78 180.92L243.34 187.76L247.90 194.40L252.46 201.64L257.02 208.33L261.58 214.93L266.14 221.96L270.70 229.10" stroke="#000000" stroke-width="0.62" fill="none" stroke-dasharray="1.8,1,1.8,4" stroke-linejoin="round"/>
<circle cx="46.70" cy="18.04" r="2.35" fill="#000000"/>
<circle cx="51.30" cy="18.04" r="2.35" fill="#000000"/>
<circle cx="55.90" cy="18.05" r="2.35" fill="#000000"/>
<circle cx="60.50" cy="18.05" r="2.35" fill="#000000"/>
<circle cx="65.10" cy="18.10" r="2.35" fill="#000000"/>
<circle cx="69.70" cy="18.15" r="2.35" fill="#000000"/>
<circle cx="74.30" cy="18.19" r="2.35" fill="#000000"/>
<circle cx="78.90" cy="18.31" r="2.35" fill="#000000"/>
<circle cx="83.50" cy="18.45" r="2.35" fill="#000000"/>
<circle cx="88.10" cy="18.64" r="2.35" fill="#000000"/>
<circle cx="92.70" cy="18.83" r="2.35" fill="#000000"/>
<circle cx="97.30" cy="19.18" r="2.35" fill="#000000"/>
<circle cx="101.90" cy="19.63" r="2.35" fill="#000000"/>
<circle cx="106.50" cy="20.03" r="2.35" fill="#000000"/>
<circle cx="111.10" cy="20.75" r="2.35" fill="#000000"/>
<circle cx="115.66" cy="21.61" r="2.35" fill="#000000"/>
<circle cx="120.22" cy="22.66" r="2.35" fill="#000000"/>
<circle cx="124.78" cy="23.87" r="2.35" fill="#000000"/>
<circle cx="129.34" cy="25.22" r="2.35" fill="#000000"/>
<circle cx="133.90" cy="27.05" r="2.35" fill="#000000"/>
<circle cx="138.46" cy="29.34" r="2.35" fill="#000000"/>
<circle cx="143.02" cy="32.07" r="2.35" fill="#000000"/>
<circle cx="147.58" cy="35.75" r="2.35" fill="#000000"/>
<circle cx="152.14" cy="40.40" r="2.35" fill="#000000"/>
<circle cx="156.70" cy="45.63" r="2.35" fill="#000000"/>
<circle cx="161.26" cy="51.53" r="2.35" fill="#000000"/>
<circle cx="165.82" cy="58.26" r="2.35" fill="#000000"/>
<circle cx="170.38" cy="65.79" r="2.35" fill="#000000"/>
<circle cx="174.94" cy="73.28" r="2.35" fill="#000000"/>
<circle cx="179.50" cy="81.94" r="2.35" fill="#000000"/>
<circle cx="184.06" cy="90.48" r="2.35" fill="#000000"/>
<circle cx="188.62" cy="98.34" r="2.35" fill="#000000"/>
<circle cx="193.18" cy="106.95" r="2.35" fill="#000000"/>
<circle cx="197.74" cy="115.24" r="2.35" fill="#000000"/>
<circle cx="202.30" cy="123.01" r="2.35" fill="#000000"/>
<circle cx="206.86" cy="131.19" r="2.35" fill="#000000"/>
<circle cx="211.42" cy="138.08" r="2.35" fill="#000000"/>
<circle cx="215.98" cy="144.77" r="2.35" fill="#000000"/>
<circle cx="220.54" cy="152.82" r="2.35" fill="#000000"/>
<circle cx="225.10" cy="159.92" r="2.35" fill="#000000"/>
<circle cx="229.66" cy="167.10" r="2.35" fill="#000000"/>
<circle cx="234.22" cy="174.08" r="2.35" fill="#000000"/>
<circle cx="238.78" cy="180.92" r="2.35" fill="#000000"/>
<circle cx="243.34" cy="187.76" r="2.35" fill="#000000"/>
<circle cx="247.90" cy="194.40" r="2.35" fill="#000000"/>
<circle cx="252.46" cy="201.64" r="2.35" fill="#000000"/>
<circle cx="257.02" cy="208.33" r="2.35" fill="#000000"/>
<circle cx="261.58" cy="214.93" r="2.35" fill="#000000"/>
<circle cx="266.14" cy="221.96" r="2.35" fill="#000000"/>
<circle cx="270.70" cy="229.10" r="2.35" fill="#000000"/>
</g>
<path d="M141.2 147.20H182.4" stroke="#ff0000" stroke-width="0.62" fill="none"/>
<path d="M159.50 147.20h4.6M161.80 144.90v4.6" stroke="#ff0000" stroke-width="0.7" fill="none"/>
<path d="M141.2 162.50H182.4" stroke="#00ee00" stroke-width="0.62" fill="none" stroke-dasharray="3,1.3"/>
<path d="M159.40 160.10l4.8 4.8M159.40 164.90l4.8 -4.8" stroke="#00ee00" stroke-width="0.7" fill="none"/>
<path d="M141.2 177.80H182.4" stroke="#0000ff" stroke-width="0.62" fill="none" stroke-dasharray="1.5,2"/>
<path d="M159.30 177.80h5.0M161.80 175.30v5.0" stroke="#0000ff" stroke-width="0.7" fill="none"/><path d="M159.55 175.55l4.5 4.5M159.55 180.05l4.5 -4.5" stroke="#0000ff" stroke-width="0.7" fill="none"/>
<path d="M141.2 193.10H182.4" stroke="#ff50ff" stroke-width="0.62" fill="none" stroke-dasharray="0.9,0.9"/>
<rect x="159.50" y="190.80" width="4.6" height="4.6" stroke="#ff50ff" stroke-width="0.9" fill="none"/>
<path d="M141.2 208.40H182.4" stroke="#00ffff" stroke-width="0.62" fill="none" stroke-dasharray="4.2,1.2,1,1.4"/>
<rect x="159.45" y="206.05" width="4.7" height="4.7" fill="#00ffff"/>
<path d="M141.2 223.70H182.4" stroke="#b8a030" stroke-width="0.62" fill="none" stroke-dasharray="2.4,1.4,1,2"/>
<circle cx="161.80" cy="223.70" r="2.0" stroke="#b8a030" stroke-width="0.8" fill="none"/>
<path d="M141.2 239.00H179.3" stroke="#000000" stroke-width="0.62" fill="none" stroke-dasharray="1.8,1,1.8,4"/>
<circle cx="161.80" cy="239.00" r="2.35" fill="#000000"/>
<rect x="344.375" y="17.125" width="1.25" height="240.900" fill="#000"/>
<rect x="570.050" y="17.125" width="1.3" height="240.900" fill="#000"/>
<rect x="344.375" y="17.125" width="226.975" height="1.05" fill="#000"/>
<rect x="344.375" y="256.875" width="226.975" height="1.15" fill="#000"/>
<path d="M358.59 257.45v-2.5M358.59 17.65v2.5M376.55 257.45v-2.5M376.55 17.65v2.5M385.77 257.45v-2.5M385.77 17.65v2.5M390.14 257.45v-4.5M390.14 17.65v4.5M403.73 257.45v-2.5M403.73 17.65v2.5M421.69 257.45v-2.5M421.69 17.65v2.5M430.91 257.45v-2.5M430.91 17.65v2.5M435.28 257.45v-4.5M435.28 17.65v4.5M448.87 257.45v-2.5M448.87 17.65v2.5M466.83 257.45v-2.5M466.83 17.65v2.5M476.05 257.45v-2.5M476.05 17.65v2.5M480.42 257.45v-4.5M480.42 17.65v4.5M494.01 257.45v-2.5M494.01 17.65v2.5M511.97 257.45v-2.5M511.97 17.65v2.5M521.19 257.45v-2.5M521.19 17.65v2.5M525.56 257.45v-4.5M525.56 17.65v4.5M539.15 257.45v-2.5M539.15 17.65v2.5M557.11 257.45v-2.5M557.11 17.65v2.5M566.33 257.45v-2.5M566.33 17.65v2.5M345.0 73.52h2.5M570.7 73.52h-2.5M345.0 59.45h2.5M570.7 59.45h-2.5M345.0 49.46h2.5M570.7 49.46h-2.5M345.0 41.71h2.5M570.7 41.71h-2.5M345.0 35.38h2.5M570.7 35.38h-2.5M345.0 30.03h2.5M570.7 30.03h-2.5M345.0 25.40h2.5M570.7 25.40h-2.5M345.0 21.31h2.5M570.7 21.31h-2.5M345.0 97.58h4.5M570.7 97.58h-4.5M345.0 153.45h2.5M570.7 153.45h-2.5M345.0 139.38h2.5M570.7 139.38h-2.5M345.0 129.39h2.5M570.7 129.39h-2.5M345.0 121.65h2.5M570.7 121.65h-2.5M345.0 115.32h2.5M570.7 115.32h-2.5M345.0 109.97h2.5M570.7 109.97h-2.5M345.0 105.33h2.5M570.7 105.33h-2.5M345.0 101.24h2.5M570.7 101.24h-2.5M345.0 177.52h4.5M570.7 177.52h-4.5M345.0 233.39h2.5M570.7 233.39h-2.5M345.0 219.31h2.5M570.7 219.31h-2.5M345.0 209.33h2.5M570.7 209.33h-2.5M345.0 201.58h2.5M570.7 201.58h-2.5M345.0 195.25h2.5M570.7 195.25h-2.5M345.0 189.90h2.5M570.7 189.90h-2.5M345.0 185.26h2.5M570.7 185.26h-2.5M345.0 181.17h2.5M570.7 181.17h-2.5" stroke="#000" stroke-width="1" fill="none"/>
<path d="M392.30 18.40L399.40 19.05L406.40 19.50L413.40 20.30L420.40 22.10L427.70 23.60L434.90 26.50L442.20 30.00L449.40 34.90L456.40 41.70L463.40 51.50L470.50 64.70L477.70 80.70L484.80 98.85L492.10 117.10L499.20 133.70L506.30 148.70L513.50 162.30L520.50 175.30L527.60 187.80" stroke="#222" stroke-width="0.65" fill="none" stroke-linejoin="round"/>
<circle cx="392.30" cy="18.40" r="2.3" stroke="#222" stroke-width="0.8" fill="none"/>
<circle cx="399.40" cy="19.05" r="2.3" stroke="#222" stroke-width="0.8" fill="none"/>
<circle cx="406.40" cy="19.50" r="2.3" stroke="#222" stroke-width="0.8" fill="none"/>
<circle cx="413.40" cy="20.30" r="2.3" stroke="#222" stroke-width="0.8" fill="none"/>
<circle cx="420.40" cy="22.10" r="2.3" stroke="#222" stroke-width="0.8" fill="none"/>
<circle cx="427.70" cy="23.60" r="2.3" stroke="#222" stroke-width="0.8" fill="none"/>
<circle cx="434.90" cy="26.50" r="2.3" stroke="#222" stroke-width="0.8" fill="none"/>
<circle cx="442.20" cy="30.00" r="2.3" stroke="#222" stroke-width="0.8" fill="none"/>
<circle cx="449.40" cy="34.90" r="2.3" stroke="#222" stroke-width="0.8" fill="none"/>
<circle cx="456.40" cy="41.70" r="2.3" stroke="#222" stroke-width="0.8" fill="none"/>
<circle cx="463.40" cy="51.50" r="2.3" stroke="#222" stroke-width="0.8" fill="none"/>
<circle cx="470.50" cy="64.70" r="2.3" stroke="#222" stroke-width="0.8" fill="none"/>
<circle cx="477.70" cy="80.70" r="2.3" stroke="#222" stroke-width="0.8" fill="none"/>
<circle cx="484.80" cy="98.85" r="2.3" stroke="#222" stroke-width="0.8" fill="none"/>
<circle cx="492.10" cy="117.10" r="2.3" stroke="#222" stroke-width="0.8" fill="none"/>
<circle cx="499.20" cy="133.70" r="2.3" stroke="#222" stroke-width="0.8" fill="none"/>
<circle cx="506.30" cy="148.70" r="2.3" stroke="#222" stroke-width="0.8" fill="none"/>
<circle cx="513.50" cy="162.30" r="2.3" stroke="#222" stroke-width="0.8" fill="none"/>
<circle cx="520.50" cy="175.30" r="2.3" stroke="#222" stroke-width="0.8" fill="none"/>
<circle cx="527.60" cy="187.80" r="2.3" stroke="#222" stroke-width="0.8" fill="none"/>
<path d="M413.00 19.85L424.10 20.65L434.90 23.20L445.60 26.40L456.50 31.60L467.60 42.00L478.40 58.70L489.50 81.50L500.50 108.05L511.50 133.00L522.50 155.30L533.50 174.80L544.60 192.70L555.60 211.75L566.60 230.10" stroke="#ff0000" stroke-width="0.65" fill="none" stroke-linejoin="round"/>
<path d="M410.25 19.85h5.5M413.00 17.10v5.5" stroke="#ff0000" stroke-width="0.65" fill="none"/><path d="M410.52 17.38l4.95 4.95M410.52 22.33l4.95 -4.95" stroke="#ff0000" stroke-width="0.65" fill="none"/>
<path d="M421.35 20.65h5.5M424.10 17.90v5.5" stroke="#ff0000" stroke-width="0.65" fill="none"/><path d="M421.62 18.17l4.95 4.95M421.62 23.12l4.95 -4.95" stroke="#ff0000" stroke-width="0.65" fill="none"/>
<path d="M432.15 23.20h5.5M434.90 20.45v5.5" stroke="#ff0000" stroke-width="0.65" fill="none"/><path d="M432.42 20.72l4.95 4.95M432.42 25.68l4.95 -4.95" stroke="#ff0000" stroke-width="0.65" fill="none"/>
<path d="M442.85 26.40h5.5M445.60 23.65v5.5" stroke="#ff0000" stroke-width="0.65" fill="none"/><path d="M443.12 23.92l4.95 4.95M443.12 28.88l4.95 -4.95" stroke="#ff0000" stroke-width="0.65" fill="none"/>
<path d="M453.75 31.60h5.5M456.50 28.85v5.5" stroke="#ff0000" stroke-width="0.65" fill="none"/><path d="M454.02 29.12l4.95 4.95M454.02 34.08l4.95 -4.95" stroke="#ff0000" stroke-width="0.65" fill="none"/>
<path d="M464.85 42.00h5.5M467.60 39.25v5.5" stroke="#ff0000" stroke-width="0.65" fill="none"/><path d="M465.12 39.52l4.95 4.95M465.12 44.48l4.95 -4.95" stroke="#ff0000" stroke-width="0.65" fill="none"/>
<path d="M475.65 58.70h5.5M478.40 55.95v5.5" stroke="#ff0000" stroke-width="0.65" fill="none"/><path d="M475.92 56.23l4.95 4.95M475.92 61.18l4.95 -4.95" stroke="#ff0000" stroke-width="0.65" fill="none"/>
<path d="M486.75 81.50h5.5M489.50 78.75v5.5" stroke="#ff0000" stroke-width="0.65" fill="none"/><path d="M487.02 79.03l4.95 4.95M487.02 83.97l4.95 -4.95" stroke="#ff0000" stroke-width="0.65" fill="none"/>
<path d="M497.75 108.05h5.5M500.50 105.30v5.5" stroke="#ff0000" stroke-width="0.65" fill="none"/><path d="M498.02 105.58l4.95 4.95M498.02 110.52l4.95 -4.95" stroke="#ff0000" stroke-width="0.65" fill="none"/>
<path d="M508.75 133.00h5.5M511.50 130.25v5.5" stroke="#ff0000" stroke-width="0.65" fill="none"/><path d="M509.02 130.53l4.95 4.95M509.02 135.47l4.95 -4.95" stroke="#ff0000" stroke-width="0.65" fill="none"/>
<path d="M519.75 155.30h5.5M522.50 152.55v5.5" stroke="#ff0000" stroke-width="0.65" fill="none"/><path d="M520.02 152.83l4.95 4.95M520.02 157.78l4.95 -4.95" stroke="#ff0000" stroke-width="0.65" fill="none"/>
<path d="M530.75 174.80h5.5M533.50 172.05v5.5" stroke="#ff0000" stroke-width="0.65" fill="none"/><path d="M531.02 172.33l4.95 4.95M531.02 177.28l4.95 -4.95" stroke="#ff0000" stroke-width="0.65" fill="none"/>
<path d="M541.85 192.70h5.5M544.60 189.95v5.5" stroke="#ff0000" stroke-width="0.65" fill="none"/><path d="M542.12 190.22l4.95 4.95M542.12 195.17l4.95 -4.95" stroke="#ff0000" stroke-width="0.65" fill="none"/>
<path d="M552.85 211.75h5.5M555.60 209.00v5.5" stroke="#ff0000" stroke-width="0.65" fill="none"/><path d="M553.12 209.28l4.95 4.95M553.12 214.22l4.95 -4.95" stroke="#ff0000" stroke-width="0.65" fill="none"/>
<path d="M563.85 230.10h5.5M566.60 227.35v5.5" stroke="#ff0000" stroke-width="0.65" fill="none"/><path d="M564.12 227.62l4.95 4.95M564.12 232.57l4.95 -4.95" stroke="#ff0000" stroke-width="0.65" fill="none"/>
<path d="M424.70 19.70L435.40 21.30L446.10 24.00L456.90 28.30L467.60 36.00L474.60 43.40L482.00 53.00L488.90 66.50L496.00 81.80L502.90 98.80L510.30 115.80L517.50 131.40L524.50 145.20L531.60 158.60L538.60 171.80L545.60 184.30L552.90 195.30L560.00 207.75" stroke="#2e8b2e" stroke-width="0.65" fill="none" stroke-linejoin="round"/>
<rect x="422.50" y="17.50" width="4.4" height="4.4" stroke="#2e8b2e" stroke-width="0.8" fill="none"/>
<rect x="433.20" y="19.10" width="4.4" height="4.4" stroke="#2e8b2e" stroke-width="0.8" fill="none"/>
<rect x="443.90" y="21.80" width="4.4" height="4.4" stroke="#2e8b2e" stroke-width="0.8" fill="none"/>
<rect x="454.70" y="26.10" width="4.4" height="4.4" stroke="#2e8b2e" stroke-width="0.8" fill="none"/>
<rect x="465.40" y="33.80" width="4.4" height="4.4" stroke="#2e8b2e" stroke-width="0.8" fill="none"/>
<rect x="472.40" y="41.20" width="4.4" height="4.4" stroke="#2e8b2e" stroke-width="0.8" fill="none"/>
<rect x="479.80" y="50.80" width="4.4" height="4.4" stroke="#2e8b2e" stroke-width="0.8" fill="none"/>
<rect x="486.70" y="64.30" width="4.4" height="4.4" stroke="#2e8b2e" stroke-width="0.8" fill="none"/>
<rect x="493.80" y="79.60" width="4.4" height="4.4" stroke="#2e8b2e" stroke-width="0.8" fill="none"/>
<rect x="500.70" y="96.60" width="4.4" height="4.4" stroke="#2e8b2e" stroke-width="0.8" fill="none"/>
<rect x="508.10" y="113.60" width="4.4" height="4.4" stroke="#2e8b2e" stroke-width="0.8" fill="none"/>
<rect x="515.30" y="129.20" width="4.4" height="4.4" stroke="#2e8b2e" stroke-width="0.8" fill="none"/>
<rect x="522.30" y="143.00" width="4.4" height="4.4" stroke="#2e8b2e" stroke-width="0.8" fill="none"/>
<rect x="529.40" y="156.40" width="4.4" height="4.4" stroke="#2e8b2e" stroke-width="0.8" fill="none"/>
<rect x="536.40" y="169.60" width="4.4" height="4.4" stroke="#2e8b2e" stroke-width="0.8" fill="none"/>
<rect x="543.40" y="182.10" width="4.4" height="4.4" stroke="#2e8b2e" stroke-width="0.8" fill="none"/>
<rect x="550.70" y="193.10" width="4.4" height="4.4" stroke="#2e8b2e" stroke-width="0.8" fill="none"/>
<rect x="557.80" y="205.55" width="4.4" height="4.4" stroke="#2e8b2e" stroke-width="0.8" fill="none"/>
<path d="M433.05 20.05L440.15 20.75L447.30 22.50L454.30 25.00L461.45 28.50L468.45 33.10L475.60 39.70L482.85 49.50L489.90 62.10L496.90 76.10L504.30 91.70L511.50 108.70L518.75 124.00L525.80 139.40L532.90 152.40L540.20 165.50L547.30 178.10L554.30 190.25L561.30 202.20L568.30 213.60" stroke="#0000ff" stroke-width="0.65" fill="none" stroke-linejoin="round"/>
<path d="M433.05 17.70L435.28 21.51L430.82 21.51Z" stroke="#0000ff" stroke-width="0.8" fill="none"/>
<path d="M440.15 18.40L442.38 22.21L437.92 22.21Z" stroke="#0000ff" stroke-width="0.8" fill="none"/>
<path d="M447.30 20.15L449.53 23.96L445.07 23.96Z" stroke="#0000ff" stroke-width="0.8" fill="none"/>
<path d="M454.30 22.65L456.53 26.46L452.07 26.46Z" stroke="#0000ff" stroke-width="0.8" fill="none"/>
<path d="M461.45 26.15L463.68 29.96L459.22 29.96Z" stroke="#0000ff" stroke-width="0.8" fill="none"/>
<path d="M468.45 30.75L470.68 34.56L466.22 34.56Z" stroke="#0000ff" stroke-width="0.8" fill="none"/>
<path d="M475.60 37.35L477.83 41.16L473.37 41.16Z" stroke="#0000ff" stroke-width="0.8" fill="none"/>
<path d="M482.85 47.15L485.08 50.96L480.62 50.96Z" stroke="#0000ff" stroke-width="0.8" fill="none"/>
<path d="M489.90 59.75L492.13 63.56L487.67 63.56Z" stroke="#0000ff" stroke-width="0.8" fill="none"/>
<path d="M496.90 73.75L499.13 77.56L494.67 77.56Z" stroke="#0000ff" stroke-width="0.8" fill="none"/>
<path d="M504.30 89.35L506.53 93.16L502.07 93.16Z" stroke="#0000ff" stroke-width="0.8" fill="none"/>
<path d="M511.50 106.35L513.73 110.16L509.27 110.16Z" stroke="#0000ff" stroke-width="0.8" fill="none"/>
<path d="M518.75 121.65L520.98 125.46L516.52 125.46Z" stroke="#0000ff" stroke-width="0.8" fill="none"/>
<path d="M525.80 137.05L528.03 140.86L523.57 140.86Z" stroke="#0000ff" stroke-width="0.8" fill="none"/>
<path d="M532.90 150.05L535.13 153.86L530.67 153.86Z" stroke="#0000ff" stroke-width="0.8" fill="none"/>
<path d="M540.20 163.15L542.43 166.96L537.97 166.96Z" stroke="#0000ff" stroke-width="0.8" fill="none"/>
<path d="M547.30 175.75L549.53 179.56L545.07 179.56Z" stroke="#0000ff" stroke-width="0.8" fill="none"/>
<path d="M554.30 187.90L556.53 191.71L552.07 191.71Z" stroke="#0000ff" stroke-width="0.8" fill="none"/>
<path d="M561.30 199.85L563.53 203.66L559.07 203.66Z" stroke="#0000ff" stroke-width="0.8" fill="none"/>
<path d="M568.30 211.25L570.53 215.06L566.07 215.06Z" stroke="#0000ff" stroke-width="0.8" fill="none"/>
<path d="M430 185.30H471.5" stroke="#222" stroke-width="0.65" fill="none"/>
<circle cx="450.70" cy="185.30" r="2.3" stroke="#222" stroke-width="0.8" fill="none"/>
<path d="M430 200.63H471.5" stroke="#ff0000" stroke-width="0.65" fill="none"/>
<path d="M447.95 200.63h5.5M450.70 197.88v5.5" stroke="#ff0000" stroke-width="0.65" fill="none"/><path d="M448.22 198.16l4.95 4.95M448.22 203.11l4.95 -4.95" stroke="#ff0000" stroke-width="0.65" fill="none"/>
<path d="M430 215.96H471.5" stroke="#2e8b2e" stroke-width="0.65" fill="none"/>
<rect x="448.50" y="213.76" width="4.4" height="4.4" stroke="#2e8b2e" stroke-width="0.8" fill="none"/>
<path d="M430 231.29H471.5" stroke="#0000ff" stroke-width="0.65" fill="none"/>
<path d="M450.70 228.94L452.93 232.75L448.47 232.75Z" stroke="#0000ff" stroke-width="0.8" fill="none"/>
</svg>
</body></html>
